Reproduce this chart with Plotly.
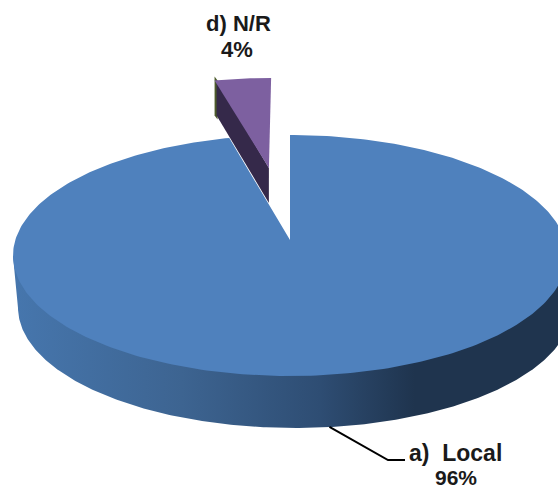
import numpy as np
import plotly.graph_objects as go

# Survey shares shown on the tilted pie
categories = ["a)  Local", "d) N/R"]
values = [96, 4]

# Drawing geometry of the disc, in plot units
CX, CY = 290.0, 240.0
RX, RY = 274.7, 118.5
TILT = 0.1286
WALL_SHIFT = 5.0
WALL_DROP = 52.0
PULL = 0.665
PULLED_DROP = 35.0

BLUE, BLUE_LIGHT, BLUE_DARK = "#4f81bd", "#4676ad", "#1f344e"
PURPLE, PURPLE_DARK, OLIVE = "#7d60a0", "#35294a", "#4c5a2a"


def project(u, v, shift=0.0, drop=0.0):
    """Map unit-disc coordinates to the plot plane with a perspective tilt."""
    d = 1 + TILT * v
    return CX + shift + RX * u / d, CY + drop - RY * v / d


def rim(theta, ou=0.0, ov=0.0, shift=0.0, drop=0.0):
    return project(np.sin(theta) + ou, np.cos(theta) + ov, shift, drop)


total = sum(values)
split = 2 * np.pi * values[0] / total  # clockwise sweep of the large slice
mid_small = (split + 2 * np.pi) / 2
off_u, off_v = PULL * np.sin(mid_small), PULL * np.cos(mid_small)

fig = go.Figure()


def poly(x, y, color=None, **extra):
    kw = dict(fillcolor=color) if color else {}
    fig.add_trace(go.Scatter(x=list(x), y=list(y), mode="lines", fill="toself",
                             line=dict(width=0), hoverinfo="skip",
                             showlegend=False, **kw, **extra))


# Side wall of the large slice: outline runs between the extreme points of
# the lower rim, then back across the underside of the top surface
loop = np.linspace(0, 2 * np.pi, 720)
bot_x, bot_y = rim(loop, shift=WALL_SHIFT, drop=WALL_DROP)
i_r, i_l = int(np.argmax(bot_x)), int(np.argmin(bot_x))
top_x, top_y = rim(loop)
j_r, j_l = int(np.argmax(top_x)), int(np.argmin(top_x))
poly(np.r_[bot_x[i_r:i_l + 1], top_x[j_l], top_x[j_r]],
     np.r_[bot_y[i_r:i_l + 1], top_y[j_l], top_y[j_r]],
     fillgradient=dict(type="horizontal", start=15, stop=570,
                       colorscale=[[0, BLUE_LIGHT], [0.3, "#3d6491"],
                                   [0.55, "#2e4d73"], [0.72, BLUE_DARK],
                                   [1, BLUE_DARK]]))

# Pulled-out slice: outer wall sliver, cut face, then top surface
ax, ay = project(off_u, off_v)
lx, ly = rim(split, off_u, off_v)
poly([lx, lx + 3, lx + 3, lx], [ly - 4, ly, ly + PULLED_DROP + 4, ly + PULLED_DROP], OLIVE)
poly([lx + 2, ax, ax, lx + 2], [ly, ay, ay + PULLED_DROP, ly + PULLED_DROP], PURPLE_DARK)
s = np.linspace(split, 2 * np.pi, 20)
sx, sy = rim(s, off_u, off_v)
poly(np.r_[ax, sx], np.r_[ay, sy], PURPLE)

# Top surface of the large slice
b = np.linspace(0, split, 360)
bx, by = rim(b)
poly(np.r_[CX, bx], np.r_[CY, by], BLUE)

# Leader line and labels
mid_large = split / 2
lead_x, lead_y = rim(mid_large, drop=WALL_DROP)
fig.add_trace(go.Scatter(x=[lead_x, 388, 405], y=[lead_y, 460, 460], mode="lines",
                         line=dict(color="black", width=2),
                         hoverinfo="skip", showlegend=False))

text_lines = [
    (categories[0], 455, 453, 23),
    (f"{round(100 * values[0] / total)}%", 456, 477, 21),
    (categories[1], 238, 23, 22),
    (f"{round(100 * values[1] / total)}%", 237, 49, 22),
]
for txt, x, y, size in text_lines:
    fig.add_annotation(x=x, y=y, xref="x", yref="y", showarrow=False,
                       text=f"<b>{txt}</b>",
                       font=dict(family="Liberation Sans", size=size, color="#1a1a1a"))

fig.update_layout(
    width=558, height=491, autosize=False,
    margin=dict(l=0, r=0, t=0, b=0),
    paper_bgcolor="white", plot_bgcolor="white",
    xaxis=dict(range=[0, 558], visible=False, fixedrange=True),
    yaxis=dict(range=[491, 0], visible=False, fixedrange=True),
)

fig.write_html("out.html", config=dict(displayModeBar=False))
